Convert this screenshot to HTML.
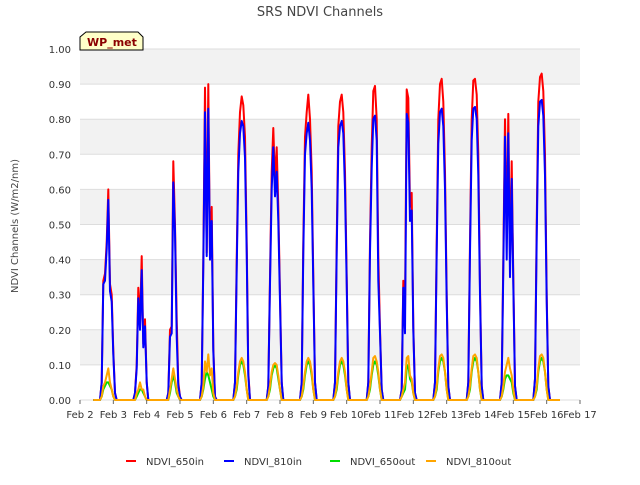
<!DOCTYPE html>
<html><head><meta charset="utf-8"><style>
body{margin:0;background:#fff;font-family:"Liberation Sans","DejaVu Sans",sans-serif;}
svg text{font-family:"DejaVu Sans","Liberation Sans",sans-serif;}
</style></head><body>
<svg id="chart" width="640" height="480" xmlns="http://www.w3.org/2000/svg">
<text x="320" y="16" text-anchor="middle" font-size="13" fill="#444">SRS NDVI Channels</text>
<g id="bands"></g><g id="grid"></g>
<g id="series"></g>
<g id="axes"></g>
<text transform="translate(18,226) rotate(-90)" text-anchor="middle" font-size="10" fill="#444">NDVI Channels (W/m2/nm)</text>
<g>
<path d="M80,50 L80,37 L86,32 L138,32 L143,37 L143,50 Z" fill="#ffffc8" stroke="#000" stroke-width="1"/>
<text x="87" y="46" font-size="11" font-weight="bold" fill="#8b0000">WP_met</text>
</g>
<g id="legend"></g>
</svg>
<script>
const days=[2,3,4,5,6,7,8,9,10,11,12,13,14,15];
const in650=[
[0,0.05,0.34,0.36,0.45,0.60,0.33,0.30,0.14,0.02,0],
[0,0.02,0.10,0.32,0.22,0.41,0.16,0.23,0.05,0,0],
[0,0.02,0.20,0.21,0.68,0.50,0.23,0.05,0.01,0,0],
[0,0.05,0.40,0.89,0.42,0.90,0.40,0.55,0.15,0.01,0],
[0,0.05,0.40,0.70,0.82,0.865,0.84,0.75,0.45,0.08,0],
[0,0.04,0.35,0.65,0.775,0.62,0.72,0.55,0.30,0.05,0],
[0,0.05,0.45,0.75,0.82,0.87,0.80,0.65,0.35,0.05,0],
[0,0.05,0.45,0.78,0.85,0.87,0.82,0.65,0.35,0.05,0],
[0,0.05,0.45,0.72,0.88,0.895,0.80,0.41,0.20,0.03,0],
[0,0.03,0.34,0.25,0.885,0.86,0.55,0.59,0.21,0.02,0],
[0,0.05,0.45,0.80,0.90,0.915,0.85,0.65,0.30,0.04,0],
[0,0.05,0.45,0.80,0.91,0.915,0.87,0.70,0.32,0.04,0],
[0,0.05,0.40,0.80,0.46,0.815,0.40,0.68,0.35,0.04,0],
[0,0.06,0.50,0.85,0.92,0.93,0.88,0.70,0.30,0.04,0]];
const in810=[
[0,0.05,0.33,0.34,0.43,0.57,0.31,0.28,0.13,0.02,0],
[0,0.02,0.09,0.29,0.20,0.37,0.15,0.21,0.05,0,0],
[0,0.02,0.18,0.19,0.62,0.48,0.18,0.04,0.01,0,0],
[0,0.05,0.38,0.82,0.41,0.83,0.40,0.51,0.14,0.01,0],
[0,0.05,0.37,0.65,0.76,0.795,0.78,0.69,0.42,0.07,0],
[0,0.04,0.33,0.60,0.72,0.58,0.65,0.51,0.28,0.05,0],
[0,0.05,0.42,0.70,0.76,0.79,0.74,0.60,0.33,0.05,0],
[0,0.05,0.42,0.72,0.78,0.795,0.76,0.60,0.33,0.05,0],
[0,0.05,0.42,0.66,0.80,0.81,0.74,0.34,0.19,0.03,0],
[0,0.03,0.32,0.19,0.815,0.79,0.51,0.54,0.20,0.02,0],
[0,0.05,0.42,0.73,0.82,0.83,0.78,0.60,0.28,0.04,0],
[0,0.05,0.42,0.74,0.83,0.835,0.80,0.64,0.30,0.04,0],
[0,0.05,0.37,0.75,0.40,0.76,0.35,0.63,0.33,0.04,0],
[0,0.06,0.46,0.78,0.85,0.855,0.81,0.64,0.28,0.04,0]];
const out650=[
[0,0.01,0.03,0.04,0.05,0.05,0.04,0.03,0.01,0,0],
[0,0,0.01,0.02,0.03,0.03,0.02,0.01,0,0,0],
[0,0,0.02,0.05,0.07,0.05,0.02,0.01,0,0,0],
[0,0.01,0.03,0.06,0.08,0.07,0.05,0.03,0.01,0,0],
[0,0.01,0.03,0.07,0.10,0.11,0.10,0.07,0.03,0,0],
[0,0.01,0.03,0.07,0.09,0.10,0.09,0.06,0.03,0,0],
[0,0.01,0.03,0.07,0.10,0.11,0.10,0.07,0.03,0,0],
[0,0.01,0.03,0.07,0.10,0.11,0.10,0.07,0.03,0,0],
[0,0.01,0.03,0.07,0.10,0.11,0.10,0.07,0.03,0,0],
[0,0.01,0.02,0.03,0.09,0.10,0.06,0.05,0.02,0,0],
[0,0.01,0.03,0.08,0.11,0.12,0.11,0.08,0.03,0,0],
[0,0.01,0.03,0.08,0.11,0.12,0.11,0.08,0.03,0,0],
[0,0.01,0.03,0.06,0.07,0.07,0.06,0.05,0.02,0,0],
[0,0.01,0.03,0.08,0.11,0.12,0.11,0.08,0.03,0,0]];
const out810=[
[0,0.01,0.04,0.05,0.07,0.09,0.05,0.03,0.01,0,0],
[0,0,0.02,0.03,0.05,0.03,0.03,0.01,0,0,0],
[0,0,0.03,0.06,0.09,0.06,0.03,0.01,0,0,0],
[0,0.01,0.04,0.11,0.08,0.13,0.07,0.09,0.02,0,0],
[0,0.01,0.04,0.08,0.11,0.12,0.11,0.08,0.03,0,0],
[0,0.01,0.04,0.08,0.10,0.105,0.10,0.07,0.03,0,0],
[0,0.01,0.04,0.08,0.11,0.12,0.11,0.08,0.03,0,0],
[0,0.01,0.04,0.08,0.11,0.12,0.11,0.08,0.03,0,0],
[0,0.01,0.04,0.08,0.12,0.125,0.11,0.08,0.03,0,0],
[0,0.01,0.03,0.05,0.12,0.125,0.07,0.06,0.02,0,0],
[0,0.01,0.04,0.09,0.125,0.13,0.12,0.08,0.03,0,0],
[0,0.01,0.04,0.09,0.125,0.13,0.12,0.08,0.03,0,0],
[0,0.01,0.04,0.08,0.10,0.12,0.09,0.07,0.03,0,0],
[0,0.01,0.04,0.09,0.125,0.13,0.12,0.08,0.03,0,0]];
const xTicks=["Feb 2","Feb 3","Feb 4","Feb 5","Feb 6","Feb 7","Feb 8","Feb 9","Feb 10","Feb 11","Feb 12","Feb 13","Feb 14","Feb 15","Feb 16","Feb 17"];
const yTicks=[0,0.1,0.2,0.3,0.4,0.5,0.6,0.7,0.8,0.9,1.0];
const NS='http://www.w3.org/2000/svg';
const X0=80,X1=580,Y0=400,Y1=49;
const xs=d=>X0+(d-2)/15*(X1-X0);
const ys=v=>Y0-v*(Y0-Y1);
function mk(tag,attrs,parent){const e=document.createElementNS(NS,tag);for(const k in attrs)e.setAttribute(k,attrs[k]);parent.appendChild(e);return e;}
const bands=document.getElementById('bands'),grid=document.getElementById('grid'),axes=document.getElementById('axes');
for(let i=0;i<10;i++){const r=mk('rect',{x:X0,y:ys(yTicks[i+1]),width:X1-X0,height:ys(yTicks[i])-ys(yTicks[i+1]),fill:(i%2==1)?'#f2f2f2':'#fff'},bands);

}
yTicks.forEach(v=>{const l=mk('line',{x1:X0,x2:X1,y1:ys(v),y2:ys(v),stroke:'#ddd','stroke-width':1},grid);


const t=mk('text',{x:71,y:ys(v)+4,'text-anchor':'end','font-size':10,fill:'#333'},axes);t.textContent=v.toFixed(2);

});
xTicks.forEach((s,i)=>{const x=xs(i+2);mk('line',{x1:x,x2:x,y1:Y0,y2:Y0+4,stroke:'#666'},axes);
const t=mk('text',{x:x,y:418,'text-anchor':'middle','font-size':10,fill:'#333'},axes);t.textContent=s;

});
const sg=document.getElementById('series');
function draw(arr,color,name){let pts=[[xs(2.4),ys(0)]];
arr.forEach((vals,di)=>{vals.forEach((v,i)=>{pts.push([xs(days[di]+0.6+i*0.05),ys(v)]);});});
pts.push([xs(16.4),ys(0)]);
const p=mk('polyline',{points:pts.map(p=>p[0].toFixed(1)+','+p[1].toFixed(1)).join(' '),fill:'none',stroke:color,'stroke-width':2,'stroke-linejoin':'round'},sg);

}
draw(in650,'#ff0000','series-ndvi-650in');
draw(in810,'#0000ff','series-ndvi-810in');
draw(out650,'#00dd00','series-ndvi-650out');
draw(out810,'#ffa500','series-ndvi-810out');
const lg=document.getElementById('legend');
[['NDVI_650in','#ff0000',126],['NDVI_810in','#0000ff',224],['NDVI_650out','#00dd00',330],['NDVI_810out','#ffa500',426]].forEach(([n,c,x])=>{
const g=mk('g',{},lg);


mk('line',{x1:x,x2:x+10,y1:461,y2:461,stroke:c,'stroke-width':2},g);
const t=mk('text',{x:x+20,y:465,'font-size':10,fill:'#333'},g);t.textContent=n;});
</script>
</body></html>
